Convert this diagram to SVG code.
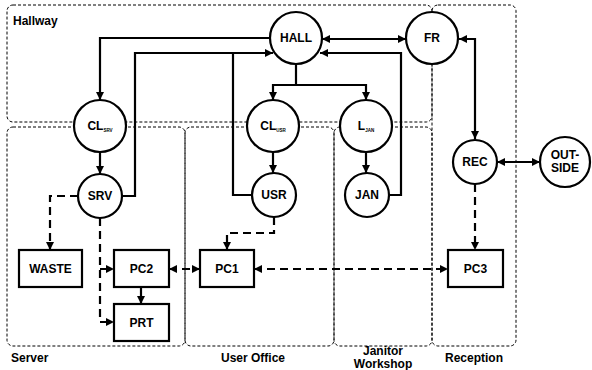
<svg xmlns="http://www.w3.org/2000/svg" width="592" height="370" viewBox="0 0 592 370">
<style>
.region{fill:none;stroke:#000;stroke-width:1;stroke-dasharray:3,2}
.rlabel{font-family:"Liberation Sans",Arial,sans-serif;font-weight:bold;font-size:12px;fill:#000}
.node circle,.node rect{fill:#fff;stroke:#000;stroke-width:2.2}
.node text{font-family:"Liberation Sans",Arial,sans-serif;font-weight:bold;font-size:12px;text-anchor:middle;fill:#000}
.sub{font-size:4.5px}
.c{fill:none;stroke:#000;stroke-width:2.2}
.d{stroke-dasharray:8,5}
.e{marker-end:url(#ah)}
.b{marker-start:url(#ah);marker-end:url(#ah)}
</style>
<defs>
<marker id="ah" viewBox="0 0 10 10" refX="10" refY="5" markerWidth="9" markerHeight="8" markerUnits="userSpaceOnUse" orient="auto-start-reverse">
<path d="M0,0 L10,5 L0,10 z" fill="#000"/>
</marker>
</defs>
<g id="regions">
<rect class="region" x="7" y="5" width="425" height="117" rx="6"/>
<rect class="region" x="432" y="5" width="84" height="341" rx="6"/>
<rect class="region" x="7" y="127" width="178" height="219" rx="6"/>
<rect class="region" x="185" y="127" width="149" height="219" rx="6"/>
<rect class="region" x="334" y="127" width="98" height="219" rx="6"/>
<text class="rlabel" x="13" y="25">Hallway</text>
<text class="rlabel" x="11" y="362">Server</text>
<text class="rlabel" x="253" y="362" text-anchor="middle">User Office</text>
<text class="rlabel" x="383" y="355" text-anchor="middle">Janitor</text>
<text class="rlabel" x="383" y="368" text-anchor="middle">Workshop</text>
<text class="rlabel" x="474" y="362" text-anchor="middle">Reception</text>
</g>
<g id="connectors">
<path class="c e" d="M270,38 H100 V100"/>
<path class="c e" d="M123,196 H135 V53 H273"/>
<path class="c" d="M252,195 H233 V53"/>
<path class="c e" d="M388,195 H401 V53 H320"/>
<path class="c" d="M296,64 V85 M272,85 H366"/>
<path class="c e" d="M273,84 V100"/>
<path class="c e" d="M366,84 V100"/>
<path class="c b" d="M322,39 H406"/>
<path class="c b" d="M459,39 H475 V139"/>
<path class="c b" d="M497,162 H540"/>
<path class="c e" d="M100,152 V174"/>
<path class="c e" d="M273,152 V173"/>
<path class="c e" d="M366,152 V173"/>
<path class="c d e" d="M78,196 H50 V250"/>
<path class="c d e" d="M100,218 V322 H114"/>
<path class="c d e" d="M100,269 H114"/>
<path class="c d e" d="M274,217 V233 H227 V250"/>
<path class="c d b" d="M169,269 H200"/>
<path class="c d b" d="M254,269 H448"/>
<path class="c d e" d="M475,184 V250"/>
<path class="c e" d="M141,287 V304"/>
</g>
<g id="HALL" class="node"><circle cx="296" cy="38" r="26"/><text x="296" y="42">HALL</text></g>
<g id="FR" class="node"><circle cx="432" cy="38" r="26"/><text x="432" y="42">FR</text></g>
<g id="CL_SRV" class="node"><circle cx="100" cy="126" r="26"/><text x="100" y="130">CL<tspan class="sub" dy="2">SRV</tspan></text></g>
<g id="CL_USR" class="node"><circle cx="273" cy="126" r="26"/><text x="273" y="130">CL<tspan class="sub" dy="2">USR</tspan></text></g>
<g id="L_JAN" class="node"><circle cx="366" cy="126" r="26"/><text x="366" y="130">L<tspan class="sub" dy="2">JAN</tspan></text></g>
<g id="SRV" class="node"><circle cx="100" cy="196" r="22"/><text x="100" y="200">SRV</text></g>
<g id="USR" class="node"><circle cx="274" cy="195" r="22"/><text x="274" y="199">USR</text></g>
<g id="JAN" class="node"><circle cx="367" cy="195" r="22"/><text x="367" y="199">JAN</text></g>
<g id="REC" class="node"><circle cx="475" cy="162" r="22"/><text x="475" y="166">REC</text></g>
<g id="OUTSIDE" class="node"><circle cx="565" cy="162" r="25"/><text x="565" y="159">OUT-</text><text x="565" y="172">SIDE</text></g>
<g id="WASTE" class="node"><rect x="19" y="250" width="63" height="37"/><text x="50.5" y="273">WASTE</text></g>
<g id="PC2" class="node"><rect x="114" y="250" width="55" height="37"/><text x="141.5" y="273">PC2</text></g>
<g id="PRT" class="node"><rect x="114" y="304" width="55" height="37"/><text x="141.5" y="327">PRT</text></g>
<g id="PC1" class="node"><rect x="200" y="250" width="54" height="37"/><text x="227" y="273">PC1</text></g>
<g id="PC3" class="node"><rect x="448" y="250" width="55" height="37"/><text x="475.5" y="273">PC3</text></g>
</svg>
